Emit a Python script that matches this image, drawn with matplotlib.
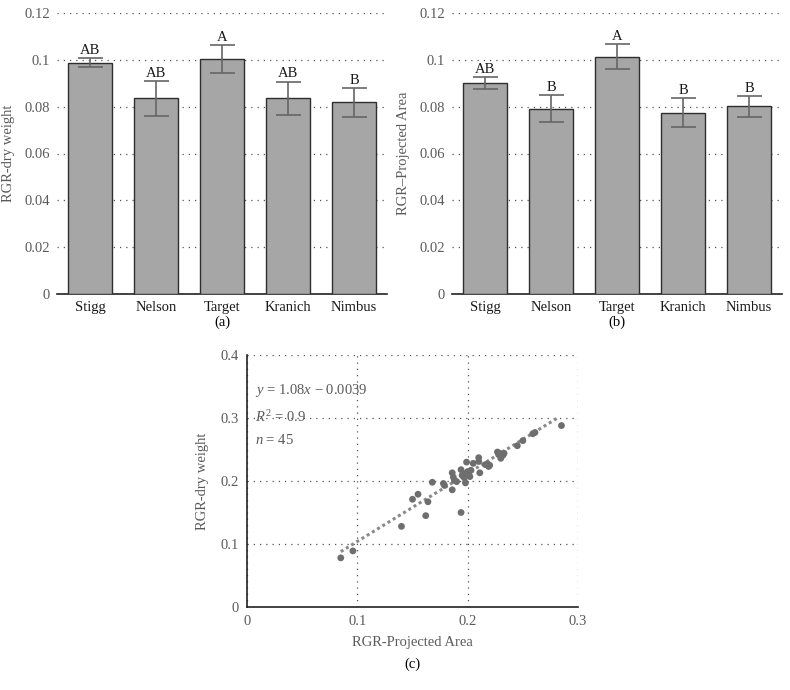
import matplotlib
matplotlib.use("Agg")
import matplotlib.pyplot as plt

plt.rcParams['font.family'] = ['Liberation Serif', 'DejaVu Serif']
plt.rcParams['mathtext.fontset'] = 'custom'
plt.rcParams['mathtext.rm'] = 'Liberation Serif'
plt.rcParams['mathtext.it'] = 'Liberation Serif:italic'

cultivars = ['Stigg', 'Nelson', 'Target', 'Kranich', 'Nimbus']

# (a) RGR based on dry weight
dw_mean = [0.0988, 0.0835, 0.1003, 0.0835, 0.0818]
dw_err = [0.0020, 0.0075, 0.0059, 0.0072, 0.0061]
dw_groups = ['AB', 'AB', 'A', 'AB', 'B']

# (b) RGR based on projected area
pa_mean = [0.0901, 0.0792, 0.1013, 0.0775, 0.0802]
pa_err = [0.0024, 0.0057, 0.0053, 0.0062, 0.0044]
pa_groups = ['AB', 'B', 'A', 'B', 'B']

bar_yticks = [0, 0.02, 0.04, 0.06, 0.08, 0.1, 0.12]
bar_ylabels = ['0', '0.02', '0.04', '0.06', '0.08', '0.1', '0.12']

# (c) scatter: RGR projected area vs RGR dry weight
rgr_pa = [0.085, 0.096, 0.140, 0.150, 0.155, 0.162, 0.164, 0.168, 0.178, 0.179,
          0.186, 0.186, 0.187, 0.188, 0.190, 0.194, 0.194, 0.195, 0.196, 0.197,
          0.198, 0.199, 0.200, 0.201, 0.202, 0.203, 0.205, 0.210, 0.210, 0.211,
          0.216, 0.218, 0.219, 0.220, 0.227, 0.228, 0.229, 0.230, 0.232, 0.233,
          0.245, 0.250, 0.259, 0.261, 0.285]
rgr_dw = [0.078, 0.089, 0.128, 0.171, 0.179, 0.145, 0.167, 0.198, 0.196, 0.193,
          0.186, 0.213, 0.206, 0.201, 0.199, 0.218, 0.150, 0.209, 0.212, 0.205,
          0.197, 0.230, 0.215, 0.210, 0.207, 0.217, 0.228, 0.237, 0.231, 0.213,
          0.226, 0.227, 0.223, 0.225, 0.246, 0.242, 0.244, 0.236, 0.241, 0.244,
          0.256, 0.264, 0.275, 0.277, 0.288]
fit_slope = 1.08
fit_icept = -0.0039
fit_x = [0.085, 0.283]

W, H = 790, 690
fig = plt.figure(figsize=(W / 100, H / 100), dpi=100)

def px_axes(left, top, right, bottom):
    return fig.add_axes([left / W, 1 - bottom / H, (right - left) / W, (bottom - top) / H])

tick_gray = '#5a5a5a'


def bar_panel(ax, means, errs, groups, ylabel, tag):
    x = range(len(cultivars))
    ax.bar(x, means, width=0.66, color='#a6a6a6', edgecolor='#2e2e2e', linewidth=1.0, zorder=3)
    ax.errorbar(x, means, yerr=errs, fmt='none', ecolor='#666666', elinewidth=1.2,
                capsize=9, capthick=1.2, zorder=4)
    for xi, m, e, g in zip(x, means, errs, groups):
        ax.annotate(g, (xi, m + e), xytext=(0, 1), textcoords='offset points',
                    ha='center', va='bottom', fontsize=10.5, color='#1a1a1a')
    ax.set_xlim(-0.5, 4.5)
    ax.set_ylim(0, 0.12)
    ax.set_yticks(bar_yticks)
    ax.set_yticklabels(bar_ylabels)
    ax.set_xticks(list(x))
    ax.set_xticklabels(cultivars)
    ax.tick_params(axis='both', length=0, pad=5)
    ax.tick_params(axis='y', labelcolor=tick_gray, labelsize=10.5)
    ax.tick_params(axis='x', labelcolor='#1a1a1a', labelsize=10.5)
    ax.yaxis.grid(True, linestyle=(0, (1, 4)), color='#555555', linewidth=0.9)
    ax.set_axisbelow(True)
    for s in ['top', 'right', 'left']:
        ax.spines[s].set_visible(False)
    ax.spines['bottom'].set_color('#222222')
    ax.spines['bottom'].set_linewidth(1.2)
    ax.set_ylabel(ylabel, color=tick_gray, fontsize=10.5)
    ax.yaxis.set_label_coords(-0.127, 0.5)
    ax.text(0.5, -0.075, tag, transform=ax.transAxes, ha='center', va='top', fontsize=10.5)


ax_a = px_axes(57, 13, 387, 294)
bar_panel(ax_a, dw_mean, dw_err, dw_groups, 'RGR-dry weight', '(a)')

ax_b = px_axes(452, 13, 782, 294)
bar_panel(ax_b, pa_mean, pa_err, pa_groups, 'RGR\u2013Projected Area', '(b)')

# scatter panel
ax_c = px_axes(247, 355, 578, 607)
ax_c.scatter(rgr_pa, rgr_dw, s=24, color='#6e6e6e', edgecolors='none', zorder=3)
fit_y = [fit_slope * v + fit_icept for v in fit_x]
ax_c.plot(fit_x, fit_y, linestyle=(0, (1, 1)), color='#8a8a8a', linewidth=2.2, zorder=2)
ax_c.set_xlim(0, 0.3)
ax_c.set_ylim(0, 0.4)
ax_c.set_xticks([0, 0.1, 0.2, 0.3])
ax_c.set_xticklabels(['0', '0.1', '0.2', '0.3'])
ax_c.set_yticks([0, 0.1, 0.2, 0.3, 0.4])
ax_c.set_yticklabels(['0', '0.1', '0.2', '0.3', '0.4'])
ax_c.tick_params(axis='both', length=0, pad=6, labelcolor=tick_gray, labelsize=10.5)
ax_c.grid(True, linestyle=(0, (1, 4)), color='#555555', linewidth=0.9)
ax_c.set_axisbelow(True)
for s in ['top', 'right']:
    ax_c.spines[s].set_visible(False)
for s in ['left', 'bottom']:
    ax_c.spines[s].set_color('#222222')
    ax_c.spines[s].set_linewidth(1.2)
ax_c.set_xlabel('RGR-Projected Area', color=tick_gray, fontsize=10.5)
ax_c.xaxis.set_label_coords(0.5, -0.115)
ax_c.set_ylabel('RGR-dry weight', color=tick_gray, fontsize=10.5)
ax_c.yaxis.set_label_coords(-0.115, 0.5)
ax_c.text(0.007, 0.343, '$y$ = 1.08$x$ \u2212 0.0039',
          ha='left', va='center', fontsize=10.5, color=tick_gray)
ax_c.text(0.007, 0.302, '$R^2$ = 0.9', ha='left', va='center', fontsize=10.5, color=tick_gray)
ax_c.text(0.007, 0.265, '$n$ = 45', ha='left', va='center', fontsize=10.5, color=tick_gray)
ax_c.text(0.5, -0.2, '(c)', transform=ax_c.transAxes, ha='center', va='top', fontsize=10.5)

fig.savefig('out.png', dpi=100)
